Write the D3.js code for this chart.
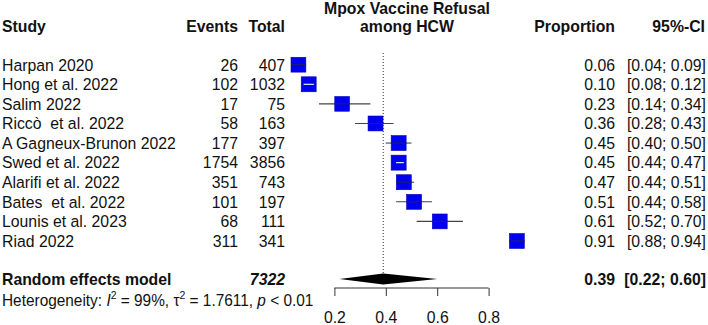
<!DOCTYPE html>
<html>
<head>
<meta charset="UTF-8">
<script src="https://d3js.org/d3.v7.min.js"></script>
<style>
  body { margin: 0; background: #fff; }
  text { font-family: "Liberation Sans", Arial, sans-serif; font-size: 15.8px; fill: #111; white-space: pre; }
  .b { font-weight: bold; }
</style>
</head>
<body>
<svg id="chart" width="708" height="325"></svg>
<script>
// studies
const studies = ["Harpan 2020", "Hong et al. 2022", "Salim 2022", "Riccò  et al. 2022",
  "A Gagneux-Brunon 2022", "Swed et al. 2022", "Alarifi et al. 2022", "Bates  et al. 2022",
  "Lounis et al. 2023", "Riad 2022"];
const events = [26, 102, 17, 58, 177, 1754, 351, 101, 68, 311];
const totals = [407, 1032, 75, 163, 397, 3856, 743, 197, 111, 341];
const props = [0.06, 0.10, 0.23, 0.36, 0.45, 0.45, 0.47, 0.51, 0.61, 0.91];
const lower = [0.04, 0.08, 0.14, 0.28, 0.40, 0.44, 0.44, 0.44, 0.52, 0.88];
const upper = [0.09, 0.12, 0.34, 0.43, 0.50, 0.47, 0.51, 0.58, 0.70, 0.94];
const weights = [9.92, 10.09, 9.73, 10.00, 10.09, 10.14, 10.12, 10.03, 9.93, 9.94]; // random effects %
// pooled
const pooled = { est: 0.39, lo: 0.22, hi: 0.60, total: 7322 };
const ticks = [0.2, 0.4, 0.6, 0.8];

const svg = d3.select("#chart");
const x = d3.scaleLinear().domain([0, 1]).range([283, 540]);
const y = d3.scaleLinear().domain([0, studies.length - 1]).range([64.7, 241]);
const box = d3.scaleSqrt().domain([0, d3.max(weights)]).range([0, 15]);
const base = 5.8; // baseline offset from row centre
const sy = 1.07;  // text in the source is slightly taller than wide
const fmt = d3.format(".2f");

// place a text at (tx, ty) with the small vertical stretch
function label(g, tx, ty, txt, anchor) {
  return g.append("text")
    .attr("transform", `translate(${tx},${ty}) scale(1,${sy})`)
    .attr("text-anchor", anchor || "start")
    .attr("xml:space", "preserve")
    .text(txt);
}

// headers
const head = svg.append("g").attr("class", "b");
label(head, 2, 32, "Study");
label(head, 238, 32, "Events", "end");
label(head, 285, 32, "Total", "end");
label(head, 407, 14, "Mpox Vaccine Refusal", "middle");
label(head, 407, 32, "among HCW", "middle");
label(head, 615, 32, "Proportion", "end");
label(head, 705, 32, "95%-CI", "end");

// reference line at pooled estimate
svg.append("line")
  .attr("x1", x(pooled.est)).attr("x2", x(pooled.est))
  .attr("y1", 53).attr("y2", 274)
  .attr("stroke", "#333").attr("stroke-dasharray", "1,2");

// study rows
studies.forEach((s, i) => {
  const g = svg.append("g").attr("class", "row");
  const ty = y(i) + base;
  label(g, 2, ty, s);
  label(g, 238, ty, events[i], "end");
  label(g, 285, ty, totals[i], "end");
  label(g, 615, ty, fmt(props[i]), "end");
  label(g, 706, ty, `[${fmt(lower[i])}; ${fmt(upper[i])}]`, "end");

  const b = box(weights[i]);
  const ciw = x(upper[i]) - x(lower[i]);
  g.append("line")
    .attr("x1", x(lower[i])).attr("x2", x(upper[i]))
    .attr("y1", y(i)).attr("y2", y(i))
    .attr("stroke", "#444").attr("stroke-width", 1.1);
  g.append("rect")
    .attr("x", x(props[i]) - b / 2).attr("y", y(i) - b / 2)
    .attr("width", b).attr("height", b)
    .attr("fill", "#0000f0").attr("stroke", "#0000b0").attr("stroke-width", 0.6);
  // CI line drawn white when it fits inside the square
  if (ciw < b - 2) {
    g.append("line")
      .attr("x1", x(lower[i])).attr("x2", x(upper[i]))
      .attr("y1", y(i)).attr("y2", y(i))
      .attr("stroke", "#fff").attr("stroke-width", 1.1);
  } else {
    g.append("line")
      .attr("x1", x(props[i]) - b / 2).attr("x2", x(props[i]) + b / 2)
      .attr("y1", y(i)).attr("y2", y(i))
      .attr("stroke", "#22225a").attr("stroke-width", 1);
  }
});

// pooled row
const ry = 279;
const pg = svg.append("g").attr("class", "b");
label(pg, 2, ry + base, "Random effects model");
label(pg, 285, ry + base, pooled.total, "end").style("font-style", "italic");
label(pg, 615, ry + base, fmt(pooled.est), "end");
label(pg, 706, ry + base, `[${fmt(pooled.lo)}; ${fmt(pooled.hi)}]`, "end");
svg.append("path")
  .attr("d", `M${x(pooled.lo)},${ry}L${x(pooled.est)},${ry - 5.5}L${x(pooled.hi)},${ry}L${x(pooled.est)},${ry + 5.5}Z`)
  .attr("fill", "#000");

// heterogeneity
const het = label(svg, 2, 300 + base, "").style("font-size", "15.4px");
het.append("tspan").text("Heterogeneity: ");
het.append("tspan").style("font-style", "italic").text("I");
het.append("tspan").attr("dy", -6).style("font-size", "10.5px").text("2");
het.append("tspan").attr("dy", 6).text(" = 99%, τ");
het.append("tspan").attr("dy", -6).style("font-size", "10.5px").text("2");
het.append("tspan").attr("dy", 6).text(" = 1.7611, ");
het.append("tspan").style("font-style", "italic").text("p");
het.append("tspan").text(" < 0.01");

// axis
const axis = svg.append("g").attr("transform", "translate(0,288)")
  .call(d3.axisBottom(x).tickValues(ticks).tickFormat(d3.format(".1f")).tickSize(8).tickPadding(15));
axis.select(".domain").attr("d", `M${x(0.2)},0H${x(0.8)}`).attr("stroke", "#333");
axis.selectAll(".tick line").attr("stroke", "#333");
axis.selectAll(".tick text")
  .style("font-size", "15.8px").style("font-family", "'Liberation Sans', Arial, sans-serif")
  .attr("fill", "#111")
  .attr("transform", `scale(1,${sy})`)
  .attr("y", 23 / sy);
</script>
</body>
</html>
